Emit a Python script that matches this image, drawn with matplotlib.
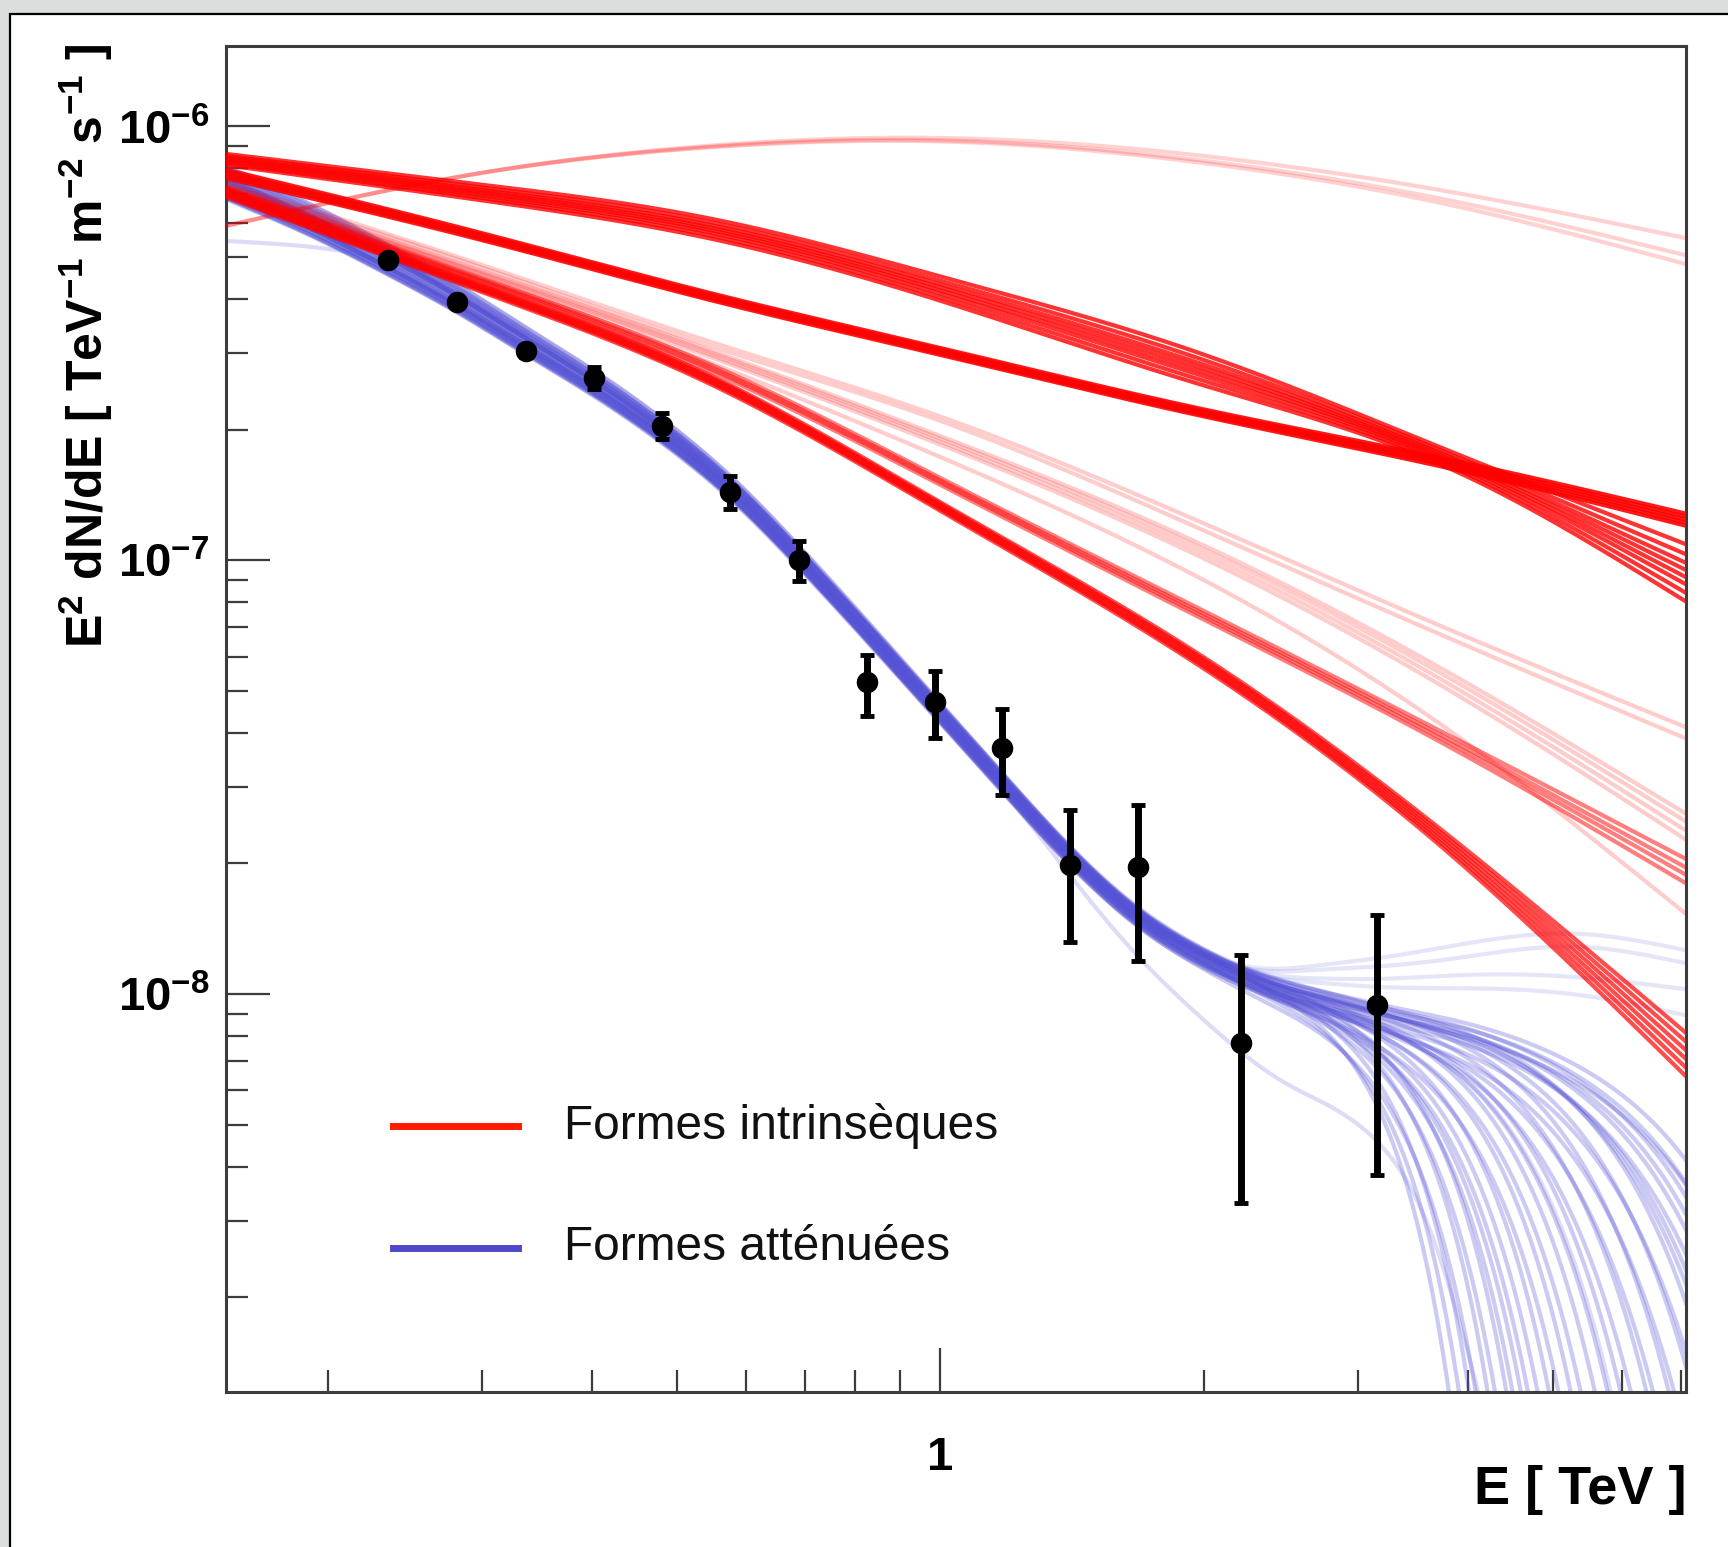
import numpy as np
import matplotlib
matplotlib.use('Agg')
import matplotlib.pyplot as plt
from matplotlib.patches import Rectangle
from matplotlib.ticker import LogLocator, NullFormatter

plt.rcParams['font.family'] = ['Liberation Sans', 'DejaVu Sans']
plt.rcParams['mathtext.fontset'] = 'custom'
plt.rcParams['mathtext.rm'] = 'Liberation Sans:bold'
plt.rcParams['mathtext.it'] = 'Liberation Sans:bold'
plt.rcParams['mathtext.bf'] = 'Liberation Sans:bold'

# measured spectrum, E^2 dN/dE in TeV^-1 m^-2 s^-1
energy = [0.234, 0.281, 0.337, 0.403, 0.481, 0.575, 0.689, 0.824, 0.986, 1.176, 1.406, 1.682, 2.205, 3.15]
flux = [4.93e-7, 3.94e-7, 3.03e-7, 2.63e-7, 2.04e-7, 1.433e-7, 1.003e-7, 5.24e-8, 4.71e-8, 3.69e-8, 1.983e-8, 1.96e-8, 7.73e-9, 9.43e-9]
flux_hi = [5.05e-7, 4.05e-7, 3.12e-7, 2.79e-7, 2.18e-7, 1.56e-7, 1.11e-7, 6.05e-8, 5.57e-8, 4.53e-8, 2.66e-8, 2.73e-8, 1.23e-8, 1.52e-8]
flux_lo = [4.81e-7, 3.83e-7, 2.94e-7, 2.48e-7, 1.90e-7, 1.31e-7, 8.95e-8, 4.38e-8, 3.89e-8, 2.87e-8, 1.32e-8, 1.19e-8, 3.3e-9, 3.82e-9]

# intrinsic shapes: bundle centre and half-width (decades) at anchor energies
red_anchor_energy = [0.153, 0.30, 0.55, 1.0, 1.95, 3.8, 7.1]
red_upper = [8.39e-7, 7.04e-7, 5.80e-7, 4.23e-7, 2.79e-7, 1.71e-7, 9.35e-8]
red_upper_width = [0.013, 0.018, 0.023, 0.028, 0.036, 0.020, 0.066]
red_tight = [7.77e-7, 5.57e-7, 4.04e-7, 3.03e-7, 2.21e-7, 1.67e-7, 1.24e-7]
red_tight_width = [0.010, 0.008, 0.008, 0.008, 0.008, 0.010, 0.014]
red_arc = [5.90e-7, 7.82e-7, 9.00e-7, 9.32e-7, 8.44e-7, 6.84e-7, 5.16e-7]
red_arc_width = [0.0, 0.0, 0.002, 0.004, 0.008, 0.015, 0.030]
red_steep = [7.00e-7, 4.23e-7, 2.59e-7, 1.33e-7, 5.99e-8, 2.22e-8, 7.25e-9]
red_steep_width = [0.008, 0.008, 0.010, 0.010, 0.013, 0.020, 0.050]
red_mid = [7.16e-7, 4.41e-7, 2.76e-7, 1.52e-7, 7.66e-8, 3.84e-8, 1.92e-8]
red_mid_width = [0.005, 0.005, 0.008, 0.008, 0.010, 0.013, 0.028]
red_pale_a = [7.25e-7, 4.59e-7, 2.98e-7, 1.89e-7, 1.07e-7, 5.27e-8, 2.43e-8]
red_pale_a_width = [0.003, 0.005, 0.008, 0.010, 0.015, 0.020, 0.030]
red_pale_b = [7.38e-7, 4.76e-7, 3.14e-7, 2.12e-7, 1.22e-7, 6.78e-8, 4.00e-8]
red_pale_b_width = [0.003, 0.003, 0.005, 0.005, 0.008, 0.010, 0.013]
red_pale_c = [7.16e-7, 4.49e-7, 2.84e-7, 1.73e-7, 9.24e-8, 4.07e-8, 1.53e-8]
red_pale_c_width = [0.0, 0.0, 0.0, 0.0, 0.0, 0.0, 0.0]

upper_members = [-1.0, -0.7, -0.4, -0.15, 0.1, 0.35, 0.65, 1.0]
tight_members = [-1.0, -0.5, 0.0, 0.5, 1.0]
arc_members = [-1.0, -0.33, 1.0]
steep_members = [-1.0, -0.6, -0.2, 0.2, 0.6, 1.0]
mid_members = [-1.0, -0.3, 0.3, 1.0]
pale_a_members = [-1.0, -0.3, 0.4, 1.0]
pale_b_members = [-1.0, 1.0]
pale_c_members = [0.0]

# attenuated shapes: common band plus per-curve offset, tilt and high-energy cutoff
blue_anchor_energy = [0.153, 0.196, 0.234, 0.281, 0.337, 0.403, 0.481, 0.575, 0.688, 0.824, 0.986,
                      1.18, 1.41, 1.68, 2.0, 2.36, 2.73, 3.16, 3.98, 5.32, 7.1]
blue_band = [7.38e-7, 5.90e-7, 4.90e-7, 3.99e-7, 3.18e-7, 2.54e-7, 1.98e-7, 1.47e-7, 1.02e-7, 6.86e-8, 4.58e-8,
             3.06e-8, 2.08e-8, 1.52e-8, 1.23e-8, 1.08e-8, 1.01e-8, 9.60e-9, 9.16e-9, 8.69e-9, 8.34e-9]
blue_offset = [0.018, -0.011, 0.005, -0.020, 0.013, -0.004, 0.022, -0.014, 0.009, -0.007, 0.000, 0.016,
               -0.018, 0.004, -0.009, 0.020, -0.002, 0.011, -0.016, 0.007, -0.005, 0.014, -0.022, 0.002,
               -0.013, 0.018, -0.004, 0.009, -0.020, 0.005, -0.011, 0.016, 0.000, -0.007, 0.013]
blue_tilt = [-0.022, 0.015, 0.026, -0.009, 0.005, -0.018, 0.011, 0.022, -0.026, 0.001, 0.020, -0.013,
             0.008, -0.005, 0.025, -0.021, 0.016, -0.011, 0.003, 0.022, -0.024, 0.009, -0.007, 0.019,
             -0.015, 0.006, 0.023, -0.020, 0.013, -0.002, 0.021, -0.010, 0.014, -0.025, 0.002]
blue_cut_energy = [3.42, 3.51, 3.58, 3.65, 3.74, 3.82, 3.89, 3.97, 4.04, 4.11, 4.18, 4.31, 4.42, 4.55,
                   4.64, 4.80, 4.95, 5.11, 5.26, 5.41, 5.55, 5.72, 5.86, 6.08, 6.21, 6.37, 6.50, 6.65,
                   6.79, 6.95, 7.11, 7.28, 7.45, 7.63, 7.76]
blue_cut_index = [6.7, 6.5, 6.3, 6.0, 6.0, 5.8, 5.6, 5.5, 5.3, 5.2, 5.0, 5.0, 4.8, 4.8, 4.6, 4.5, 4.4,
                  4.3, 4.2, 4.1, 4.0, 4.0, 3.9, 3.9, 3.8, 3.8, 3.7, 3.7, 3.6, 3.6, 3.6, 3.5, 3.5, 3.5, 3.47]

# a few outlying attenuated curves, given as deviation (decades) from the band
blue_dip_energy = [0.153, 0.19, 0.234, 0.30]
blue_dip = [-0.132, -0.061, -0.005, 0.0]
blue_rise_energy = [1.7, 2.3, 2.7, 3.9, 5.3, 7.1]
blue_rise = [[0.0, 0.02, 0.06, 0.15, 0.20, 0.18],
             [0.0, 0.015, 0.05, 0.12, 0.17, 0.15],
             [0.0, 0.01, 0.03, 0.08, 0.10, 0.09],
             [0.0, 0.005, 0.02, 0.05, 0.06, 0.03]]
blue_sag_energy = [1.0, 1.3, 1.6, 2.0, 2.5, 3.1, 3.6, 4.2, 5.0]
blue_sag = [0.0, -0.03, -0.08, -0.15, -0.23, -0.31, -0.5, -0.95, -1.6]


def spline(xk, yk, x):
    # natural cubic spline
    xk = np.asarray(xk, float)
    yk = np.asarray(yk, float)
    n = len(xk)
    h = np.diff(xk)
    A = np.zeros((n, n))
    r = np.zeros(n)
    A[0, 0] = A[-1, -1] = 1.0
    for i in range(1, n - 1):
        A[i, i - 1] = h[i - 1]
        A[i, i] = 2 * (h[i - 1] + h[i])
        A[i, i + 1] = h[i]
        r[i] = 3 * ((yk[i + 1] - yk[i]) / h[i] - (yk[i] - yk[i - 1]) / h[i - 1])
    c = np.linalg.solve(A, r)
    b = (yk[1:] - yk[:-1]) / h - h * (2 * c[:-1] + c[1:]) / 3
    d = (c[1:] - c[:-1]) / (3 * h)
    idx = np.clip(np.searchsorted(xk, x) - 1, 0, n - 2)
    dx = x - xk[idx]
    return yk[idx] + b[idx] * dx + c[idx] * dx ** 2 + d[idx] * dx ** 3


def deviation(xk, yk, x):
    lx = np.log10(xk)
    out = spline(lx, yk, x)
    out[x < lx[0]] = yk[0]
    out[x > lx[-1]] = yk[-1]
    return out


xmin, xmax = 0.153, 7.1
ymin, ymax = 1.21e-9, 1.533e-6

fig = plt.figure(figsize=(17.28, 15.47), dpi=100)
fig.patch.set_facecolor('#dcdedd')
fig.patches.append(Rectangle((10 / 1728, -0.1), 1.2, 1.1 - 14 / 1547, transform=fig.transFigure,
                             facecolor='white', edgecolor='black', linewidth=1.6, zorder=-5))

ax = fig.add_axes([0.1308, 0.1002, 0.8449, 0.8701])
ax.set_xscale('log')
ax.set_yscale('log')
ax.set_xlim(xmin, xmax)
ax.set_ylim(ymin, ymax)

lE = np.linspace(np.log10(xmin), np.log10(xmax), 600)
E = 10 ** lE

# attenuated curves
blue = '#5552d6'
lE_blue = np.log10(blue_anchor_energy)
band = spline(lE_blue, np.log10(blue_band), lE)
pivot = np.log10(1.5)
for a, b, ec, k in zip(blue_offset, blue_tilt, blue_cut_energy, blue_cut_index):
    y = 10 ** (band + a + b * (lE - pivot)) * np.exp(-(E / ec) ** k)
    ax.plot(E, y, color=blue, alpha=0.3, lw=3.0, zorder=2)

dip = deviation(blue_dip_energy, blue_dip, lE)
ax.plot(E, 10 ** (band + dip) * np.exp(-(E / 5.0) ** 4.4), color=blue, alpha=0.2, lw=3.0, zorder=2)
for rise in blue_rise:
    dev = deviation(blue_rise_energy, rise, lE)
    ax.plot(E, 10 ** (band + dev), color=blue, alpha=0.15, lw=3.0, zorder=2)
sag = deviation(blue_sag_energy, blue_sag, lE)
sag[lE > np.log10(blue_sag_energy[-1])] = -3
ax.plot(E, 10 ** (band + sag), color=blue, alpha=0.2, lw=3.0, zorder=2)

# intrinsic curves
lE_red = np.log10(red_anchor_energy)
bundles = [
    (red_upper, red_upper_width, upper_members, 0.8),
    (red_tight, red_tight_width, tight_members, 0.9),
    (red_arc, red_arc_width, arc_members, 0.18),
    (red_steep, red_steep_width, steep_members, 0.7),
    (red_mid, red_mid_width, mid_members, 0.5),
    (red_pale_a, red_pale_a_width, pale_a_members, 0.2),
    (red_pale_b, red_pale_b_width, pale_b_members, 0.2),
    (red_pale_c, red_pale_c_width, pale_c_members, 0.2),
]
for centre, width, members, alpha in bundles:
    c = spline(lE_red, np.log10(centre), lE)
    w = spline(lE_red, width, lE)
    for s in members:
        ax.plot(E, 10 ** (c + s * w), color='#ff0000', alpha=alpha, lw=3.0, zorder=3)

# data points
yerr = [np.array(flux) - np.array(flux_lo), np.array(flux_hi) - np.array(flux)]
ax.errorbar(energy, flux, yerr=yerr, fmt='o', color='black', ms=14.5, elinewidth=5,
            capsize=5, capthick=3.5, zorder=5)

# legend
ax.plot([0.1147, 0.2], [0.1974, 0.1974], transform=ax.transAxes, color='#ff1a00', lw=5, zorder=6)
ax.plot([0.1147, 0.2], [0.1073, 0.1073], transform=ax.transAxes, color='#5048c8', lw=5, zorder=6)
ax.text(0.2317, 0.1974, 'Formes intrinsèques', transform=ax.transAxes, fontsize=34.5,
        va='center', ha='left', color='#111111', zorder=6)
ax.text(0.2317, 0.1073, 'Formes atténuées', transform=ax.transAxes, fontsize=34.5,
        va='center', ha='left', color='#111111', zorder=6)

# axes styling
frame = '#3c3c3c'
for sp in ax.spines.values():
    sp.set_color(frame)
    sp.set_linewidth(2.2)
ax.set_xticks([1.0], ['1'], fontsize=34, fontweight='bold')
ax.set_yticks([1e-8, 1e-7, 1e-6], ['$10^{-8}$', '$10^{-7}$', '$10^{-6}$'], fontsize=34)
ax.xaxis.set_minor_locator(LogLocator(base=10, subs=np.arange(2, 10), numticks=20))
ax.yaxis.set_minor_locator(LogLocator(base=10, subs=np.arange(2, 10), numticks=20))
ax.xaxis.set_minor_formatter(NullFormatter())
ax.yaxis.set_minor_formatter(NullFormatter())
ax.tick_params(which='both', direction='in', top=False, right=False, color=frame, width=1.6)
ax.tick_params(which='major', length=32)
ax.tick_params(which='minor', length=16)
ax.tick_params(axis='x', which='major', pad=32)
ax.tick_params(axis='y', which='major', pad=12)

fig.text(0.0498, 0.9716, 'E$^{2}$ dN/dE [ TeV$^{-1}$ m$^{-2}$ s$^{-1}$ ]', rotation=90,
         ha='center', va='top', fontsize=36, fontweight='bold')
fig.text(0.9757, 0.0278, 'E [ TeV ]', ha='right', va='baseline', fontsize=39, fontweight='bold')

fig.savefig('out.png', dpi=100)
